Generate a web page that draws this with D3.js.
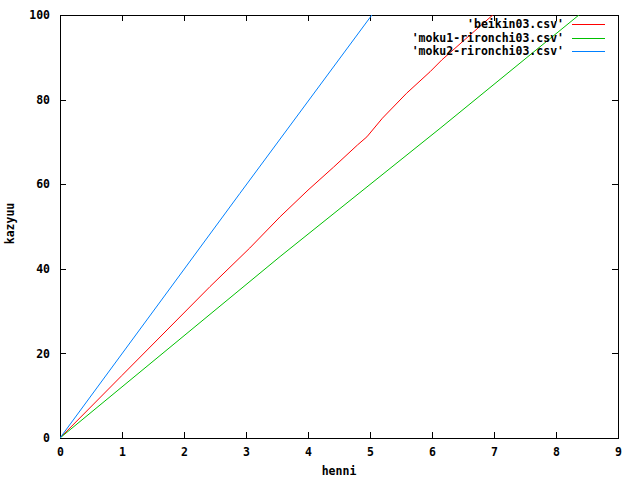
<!DOCTYPE html>
<html>
<head>
<meta charset="utf-8">
<script src="https://cdn.jsdelivr.net/npm/d3@7"></script>
<style>
  html, body { margin: 0; padding: 0; background: #fff; }
  text { font-family: "DejaVu Sans Mono", "Liberation Mono", monospace; font-weight: bold; font-size: 11.5px; fill: #000; }
</style>
</head>
<body>
<svg id="chart" width="640" height="480"></svg>
<script>
// ---- data ----
const xTicks = [0, 1, 2, 3, 4, 5, 6, 7, 8, 9];
const yTicks = [0, 20, 40, 60, 80, 100];
const seriesNames = ["'beikin03.csv'", "'moku1-rironchi03.csv'", "'moku2-rironchi03.csv'"];
const seriesColors = ["#ff0000", "#00c000", "#0080ff"];

const beikinX = [0, 1.0, 2.42, 3.06, 3.55, 4.0, 4.41, 4.8, 4.95, 5.2, 5.59, 5.97, 6.16, 6.98, 7.4];
const beikinY = [0, 14.8, 35.8, 44.9, 52.3, 58.6, 64.0, 69.3, 71.2, 75.6, 81.5, 86.6, 89.4, 100, 105.6];

const moku1X = [0, 3.55, 6.13, 8.37, 9.0];
const moku1Y = [0, 42.9, 73.2, 100, 107.5];

const moku2X = [0, 2.9, 5.03, 5.5];
const moku2Y = [0, 57.8, 100, 109.4];

const xLabel = "henni";
const yLabel = "kazyuu";

// ---- layout ----
const svg = d3.select("#chart");
const pL = 60, pR = 618, pT = 15, pB = 438;
const x = d3.scaleLinear().domain([0, 9]).range([pL, pR]);
const y = d3.scaleLinear().domain([0, 100]).range([pB, pT]);

svg.append("defs").append("clipPath").attr("id", "clip")
  .append("rect").attr("x", pL).attr("y", pT).attr("width", pR - pL).attr("height", pB - pT);

// axes with inward ticks (and mirrored)
const gx = svg.append("g").attr("transform", `translate(0,${pB})`)
  .call(d3.axisBottom(x).tickValues(xTicks).tickSize(-6).tickPadding(10).tickFormat(d3.format("d")));
const gxt = svg.append("g").attr("transform", `translate(0,${pT})`)
  .call(d3.axisTop(x).tickValues(xTicks).tickSize(-6).tickFormat(""));
const gy = svg.append("g").attr("transform", `translate(${pL},0)`)
  .call(d3.axisLeft(y).tickValues(yTicks).tickSize(-6).tickPadding(10).tickFormat(d3.format("d")));
const gyr = svg.append("g").attr("transform", `translate(${pR},0)`)
  .call(d3.axisRight(y).tickValues(yTicks).tickSize(-6).tickFormat(""));

[gx, gxt, gy, gyr].forEach(g => {
  g.select(".domain").remove();
  g.selectAll(".tick line").attr("stroke", "#000").attr("shape-rendering", "crispEdges");
  g.selectAll("text").attr("font-family", null).attr("font-size", null).style("fill", "#000");
});

// frame
svg.append("rect").attr("x", pL + 0.5).attr("y", pT + 0.5)
  .attr("width", pR - pL).attr("height", pB - pT)
  .attr("fill", "none").attr("stroke", "#000").attr("shape-rendering", "crispEdges");

// axis titles
svg.append("text").attr("x", (pL + pR) / 2).attr("y", 475).attr("text-anchor", "middle").text(xLabel);
svg.append("text").attr("transform", `translate(14,${(pT + pB) / 2 - 3}) rotate(-90)`)
  .attr("text-anchor", "middle").text(yLabel);

// lines
const series = [
  beikinX.map((v, i) => [v, beikinY[i]]),
  moku1X.map((v, i) => [v, moku1Y[i]]),
  moku2X.map((v, i) => [v, moku2Y[i]])
];
const line = d3.line().x(d => x(d[0])).y(d => y(d[1]));
const lg = svg.append("g").attr("clip-path", "url(#clip)");
series.forEach((s, i) => {
  lg.append("path").attr("d", line(s)).attr("fill", "none")
    .attr("stroke", seriesColors[i]).attr("stroke-width", 1);
});

// legend
const legendY = [24, 37.5, 51];
seriesNames.forEach((name, i) => {
  svg.append("text").attr("x", 564).attr("y", legendY[i]).attr("dy", "0.35em")
    .attr("text-anchor", "end").text(name);
  svg.append("line").attr("x1", 572).attr("x2", 605)
    .attr("y1", Math.round(legendY[i]) + 0.5).attr("y2", Math.round(legendY[i]) + 0.5)
    .attr("stroke", seriesColors[i]).attr("stroke-width", 1);
});
</script>
</body>
</html>
